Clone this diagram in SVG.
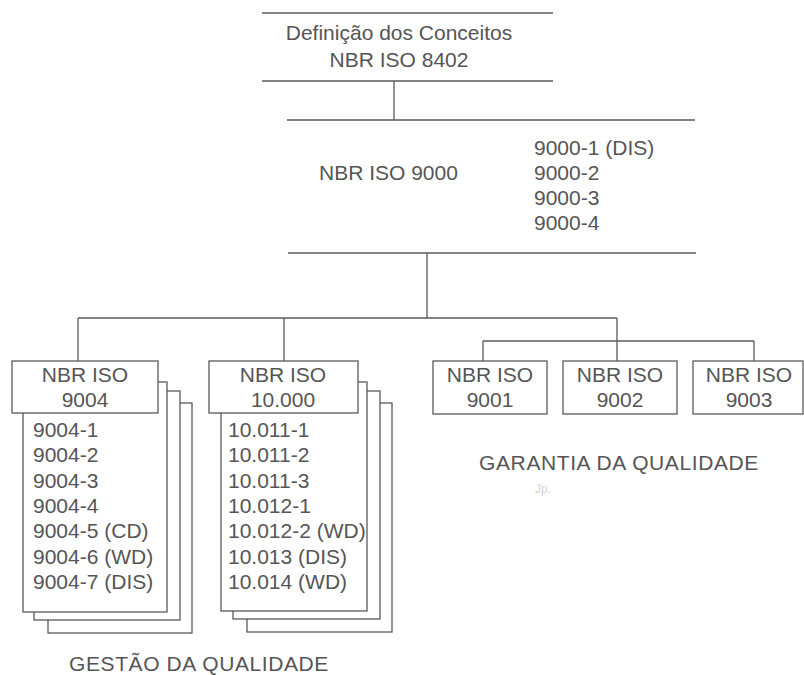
<svg xmlns="http://www.w3.org/2000/svg" width="804" height="675" viewBox="0 0 804 675">
<style>
  text { font-family: "Liberation Sans", Arial, sans-serif; font-size: 21px; fill: #555; }
  .c { text-anchor: middle; }
  .ln { stroke: #5a5a5a; stroke-width: 1.3; fill: none; }
  .bx { stroke: #5a5a5a; stroke-width: 1.3; fill: #fff; }
  .lbl { letter-spacing: 0.6px; }
</style>
<rect width="804" height="675" fill="#fff"/>

<g id="connectors">
  <line class="ln" x1="394" y1="81" x2="394" y2="120"/>
  <line class="ln" x1="427" y1="253" x2="427" y2="318"/>
  <line class="ln" x1="78" y1="318" x2="617" y2="318"/>
  <line class="ln" x1="78" y1="318" x2="78" y2="361"/>
  <line class="ln" x1="284" y1="318" x2="284" y2="361"/>
  <line class="ln" x1="617" y1="318" x2="617" y2="361"/>
  <line class="ln" x1="483" y1="341" x2="754" y2="341"/>
  <line class="ln" x1="483" y1="341" x2="483" y2="361"/>
  <line class="ln" x1="754" y1="341" x2="754" y2="361"/>
</g>

<g id="iso8402">
  <line class="ln" x1="262" y1="13" x2="553" y2="13"/>
  <line class="ln" x1="262" y1="81" x2="553" y2="81"/>
  <text class="c" x="399" y="40">Definição dos Conceitos</text>
  <text class="c" x="399" y="67">NBR ISO 8402</text>
</g>

<g id="iso9000">
  <line class="ln" x1="287" y1="120" x2="695" y2="120"/>
  <line class="ln" x1="288" y1="253" x2="696" y2="253"/>
  <text x="319" y="180">NBR ISO 9000</text>
  <text x="534" y="155">9000-1 (DIS)</text>
  <text x="534" y="180">9000-2</text>
  <text x="534" y="205">9000-3</text>
  <text x="534" y="230">9000-4</text>
</g>

<g id="iso9004">
  <rect class="bx" x="48" y="403" width="144" height="230"/>
  <rect class="bx" x="34" y="391" width="146" height="229"/>
  <rect class="bx" x="23" y="382" width="144" height="230"/>
  <rect class="bx" x="12" y="361" width="146" height="52"/>
  <text class="c" x="85" y="382">NBR ISO</text>
  <text class="c" x="85" y="407">9004</text>
  <text x="33" y="437">9004-1</text>
  <text x="33" y="462">9004-2</text>
  <text x="33" y="488">9004-3</text>
  <text x="33" y="513">9004-4</text>
  <text x="33" y="538">9004-5 (CD)</text>
  <text x="33" y="564">9004-6 (WD)</text>
  <text x="33" y="589">9004-7 (DIS)</text>
</g>

<g id="iso10000">
  <rect class="bx" x="247" y="403" width="145" height="229"/>
  <rect class="bx" x="233" y="391" width="147" height="228"/>
  <rect class="bx" x="221" y="382" width="146" height="229"/>
  <rect class="bx" x="209" y="361" width="149" height="52"/>
  <text class="c" x="283" y="382">NBR ISO</text>
  <text class="c" x="283" y="407">10.000</text>
  <text x="228" y="437">10.011-1</text>
  <text x="228" y="462">10.011-2</text>
  <text x="228" y="488">10.011-3</text>
  <text x="228" y="513">10.012-1</text>
  <text x="228" y="538">10.012-2 (WD)</text>
  <text x="228" y="564">10.013 (DIS)</text>
  <text x="228" y="589">10.014 (WD)</text>
</g>

<g id="iso9001">
  <rect class="bx" x="433" y="361" width="114" height="53"/>
  <text class="c" x="490" y="382">NBR ISO</text>
  <text class="c" x="490" y="407">9001</text>
</g>

<g id="iso9002">
  <rect class="bx" x="563" y="361" width="114" height="53"/>
  <text class="c" x="620" y="382">NBR ISO</text>
  <text class="c" x="620" y="407">9002</text>
</g>

<g id="iso9003">
  <rect class="bx" x="693" y="361" width="110" height="53"/>
  <text class="c" x="749" y="382">NBR ISO</text>
  <text class="c" x="749" y="407">9003</text>
</g>

<g id="labels">
  <text class="c lbl" x="619" y="470">GARANTIA DA QUALIDADE</text>
  <text x="535" y="493" style="font-size:12px; fill:#d4d4d4;">Jp.</text>
  <text class="c lbl" x="199" y="671">GESTÃO DA QUALIDADE</text>
</g>
</svg>
